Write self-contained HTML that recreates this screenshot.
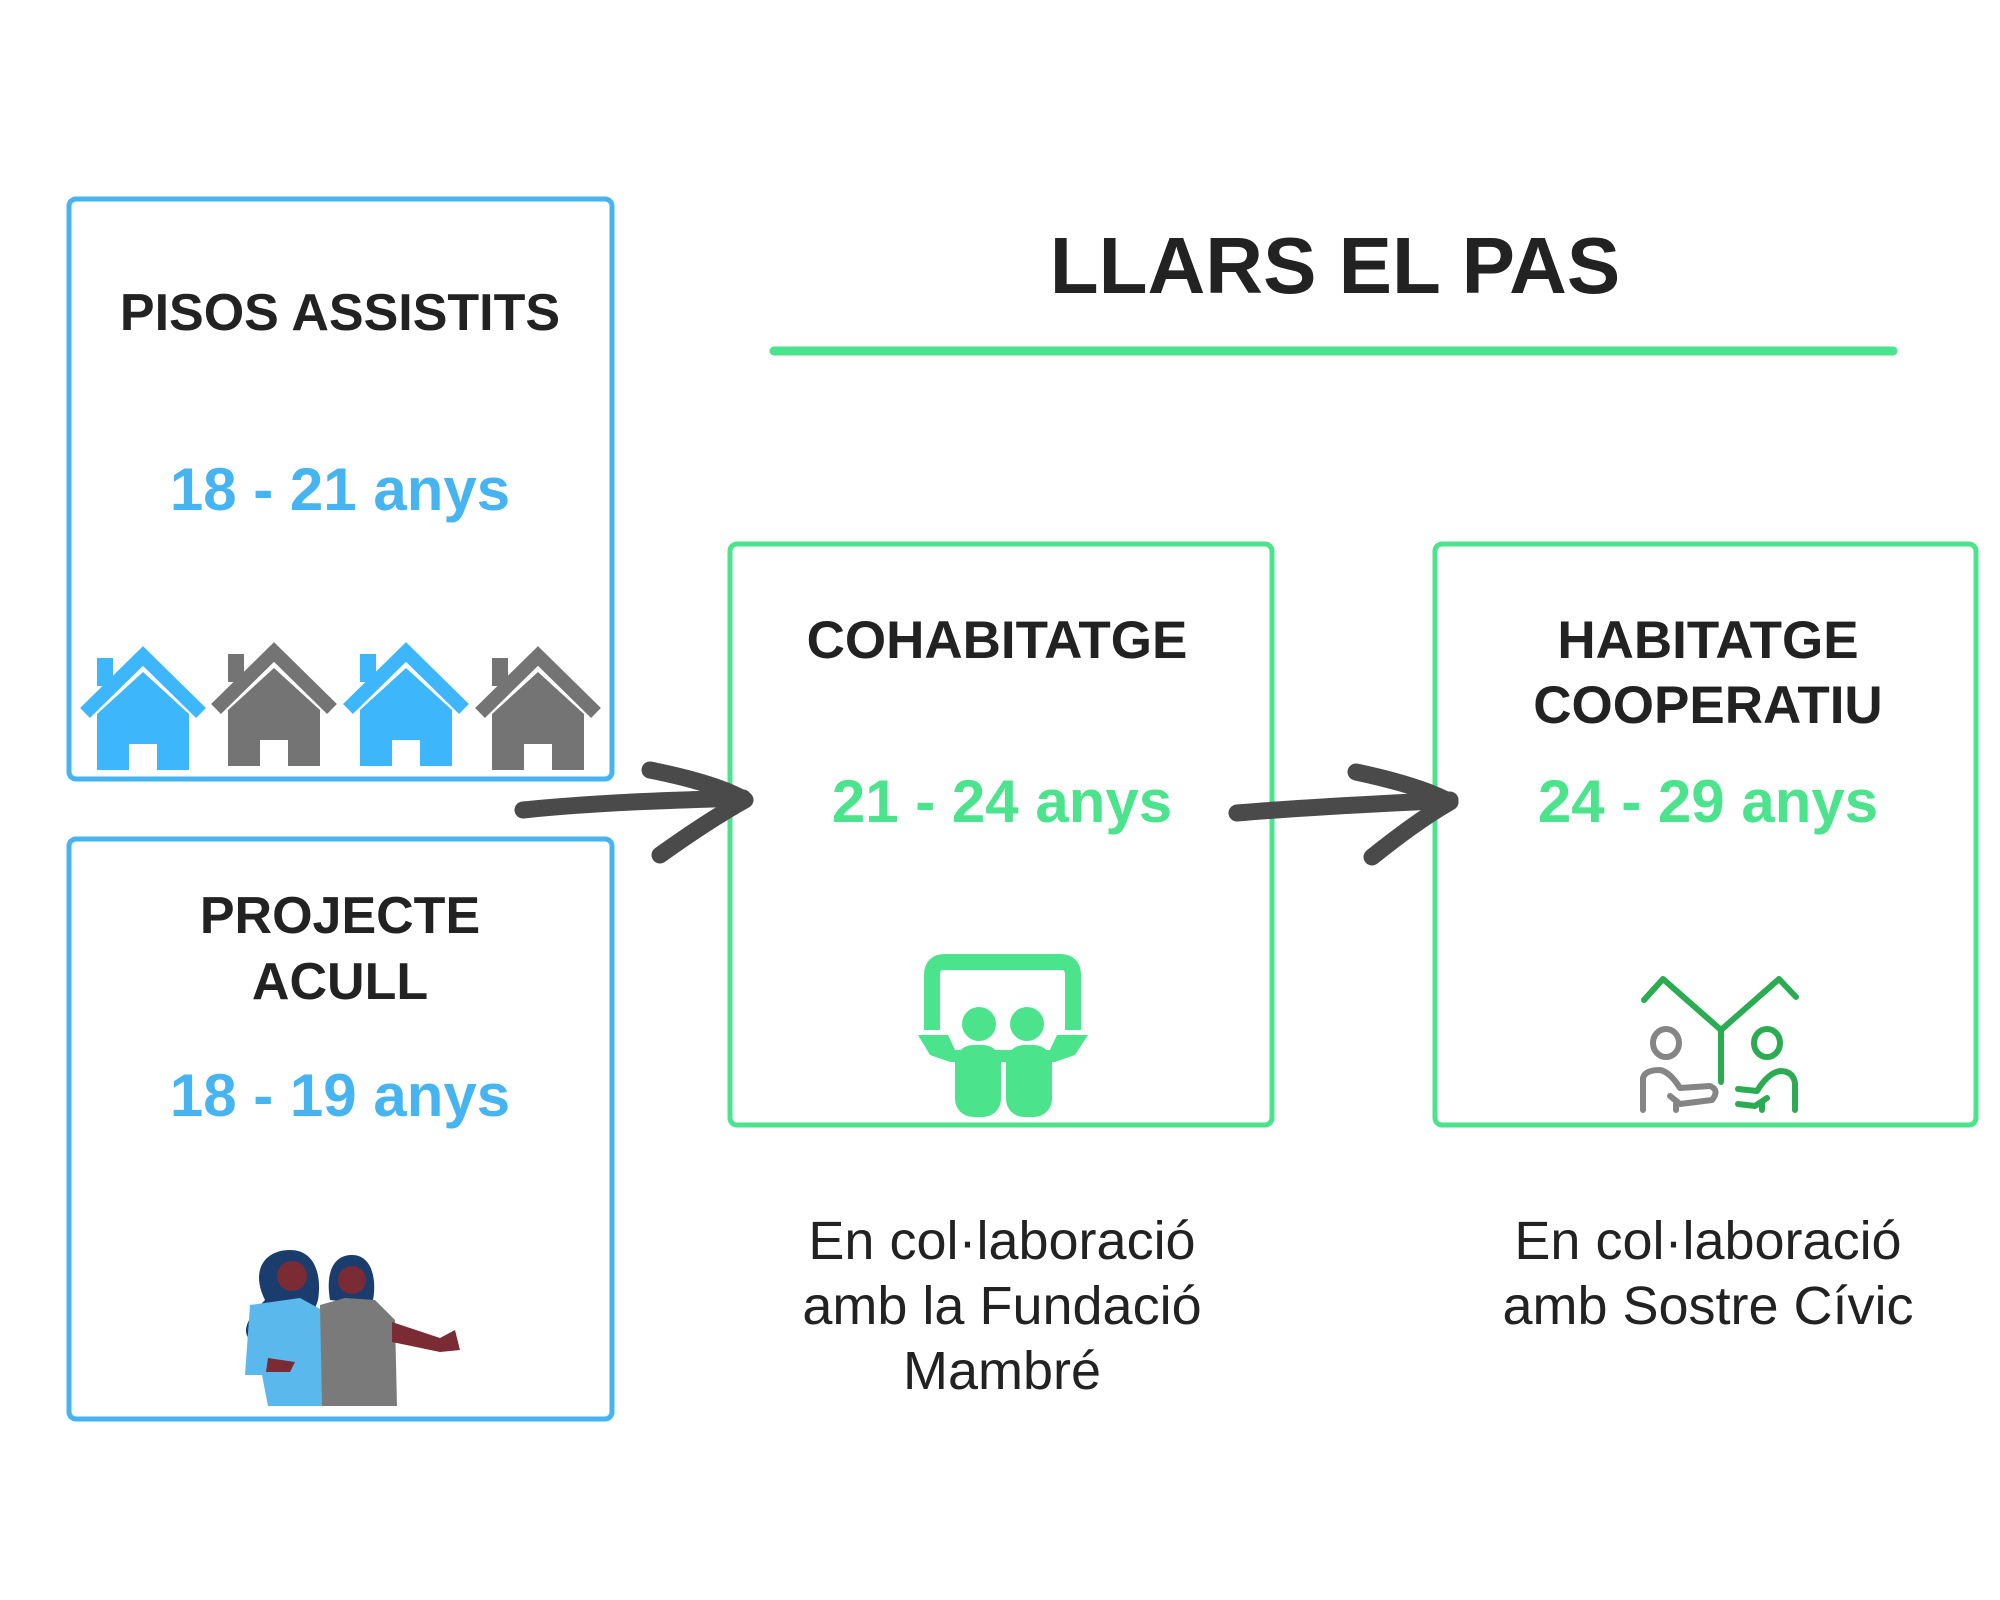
<!DOCTYPE html>
<html><head><meta charset="utf-8"><style>
html,body{margin:0;padding:0;background:#fff;}
svg{display:block;}
text{font-family:"Liberation Sans",sans-serif;}
</style></head><body>
<svg width="2000" height="1600" viewBox="0 0 2000 1600" xmlns="http://www.w3.org/2000/svg">
<rect width="2000" height="1600" fill="#fff"/>
<!-- boxes -->
<rect x="69" y="199" width="543" height="580" rx="7" fill="none" stroke="#45b4f0" stroke-width="5"/>
<rect x="69" y="839" width="543" height="580" rx="7" fill="none" stroke="#45b4f0" stroke-width="5"/>
<rect x="730" y="544" width="542" height="581" rx="7" fill="none" stroke="#4be38b" stroke-width="5"/>
<rect x="1435" y="544" width="541" height="581" rx="7" fill="none" stroke="#4be38b" stroke-width="5"/>
<!-- title -->
<text x="1335" y="293" text-anchor="middle" font-size="80" font-weight="bold" fill="#222">LLARS EL PAS</text>
<line x1="774" y1="351" x2="1893" y2="351" stroke="#4be38b" stroke-width="9" stroke-linecap="round"/>
<!-- box 1 -->
<text x="340" y="330" text-anchor="middle" font-size="52" font-weight="bold" fill="#222">PISOS ASSISTITS</text>
<text x="340" y="510" text-anchor="middle" font-size="60" font-weight="bold" fill="#45b4f0">18 - 21 anys</text>
<defs>
<g id="house">
<polyline points="-58,63 0,6 58,63" fill="none" stroke-width="14"/>
<rect x="-46" y="8" width="16" height="28" stroke="none"/>
<path d="M-46,64 L0,22 L46,64 L46,120 L14,120 L14,94 L-14,94 L-14,120 L-46,120 Z" stroke="none"/>
</g>
</defs>
<use href="#house" x="143" y="650" fill="#3db6fb" stroke="#3db6fb"/>
<use href="#house" x="274" y="646" fill="#747474" stroke="#747474"/>
<use href="#house" x="406" y="646" fill="#3db6fb" stroke="#3db6fb"/>
<use href="#house" x="538" y="650" fill="#747474" stroke="#747474"/>
<!-- box 2 -->
<text x="340" y="933" text-anchor="middle" font-size="52" font-weight="bold" fill="#222">PROJECTE</text>
<text x="340" y="999" text-anchor="middle" font-size="52" font-weight="bold" fill="#222">ACULL</text>
<text x="340" y="1116" text-anchor="middle" font-size="60" font-weight="bold" fill="#45b4f0">18 - 19 anys</text>
<!-- people -->
<path d="M265,1300 C250,1270 265,1250 290,1250 C315,1250 322,1275 318,1300 C312,1320 300,1330 300,1340 L250,1340 C240,1330 250,1315 265,1300Z" fill="#1b3d6e"/>
<path d="M250,1305 L300,1298 L322,1310 L322,1406 L268,1406 L262,1375 L245,1375 Z" fill="#5bb8ec"/>
<circle cx="292" cy="1276" r="15" fill="#7a2b34"/>
<path d="M330,1300 C325,1270 335,1255 352,1255 C372,1255 378,1280 372,1305 Z" fill="#1b3d6e"/>
<circle cx="352" cy="1280" r="14" fill="#7a2b34"/>
<path d="M320,1305 L345,1298 L375,1300 L395,1320 L397,1406 L322,1406 Z" fill="#7a7a7a"/>
<path d="M392,1322 L440,1338 L455,1330 L460,1350 L440,1352 L392,1342 Z" fill="#7a2b34"/>
<path d="M268,1358 L295,1362 L290,1372 L266,1372 Z" fill="#7a2b34"/>
<!-- arrows -->
<g fill="none" stroke="#4a4a4a" stroke-width="17" stroke-linecap="round" stroke-linejoin="round">
<path d="M523,810 C600,802 680,800 743,798"/>
<path d="M650,770 C700,780 728,790 745,800 C718,815 688,835 660,855"/>
<path d="M1237,813 C1320,806 1400,803 1450,800"/>
<path d="M1356,772 C1403,782 1432,792 1450,802 C1422,818 1396,838 1372,857"/>
</g>
<!-- cohab -->
<text x="997" y="658" text-anchor="middle" font-size="53" font-weight="bold" fill="#222">COHABITATGE</text>
<text x="1002" y="822" text-anchor="middle" font-size="60" font-weight="bold" fill="#4be38b">21 - 24 anys</text>
<g fill="#4be38b">
<path d="M932,1030 L932,975 Q932,962 945,962 L1060,962 Q1073,962 1073,975 L1073,1030" fill="none" stroke="#4be38b" stroke-width="16"/>
<path d="M918,1035 L948,1035 L955,1050 L1050,1050 L1057,1035 L1088,1035 L1075,1055 L1055,1062 L950,1062 L930,1055 Z"/>
<circle cx="979" cy="1024" r="17"/>
<circle cx="1027" cy="1024" r="17"/>
<rect x="955" y="1045" width="46" height="72" rx="18"/>
<rect x="1006" y="1045" width="46" height="72" rx="18"/>
</g>
<!-- habitatge -->
<text x="1708" y="658" text-anchor="middle" font-size="53" font-weight="bold" fill="#222">HABITATGE</text>
<text x="1708" y="723" text-anchor="middle" font-size="53" font-weight="bold" fill="#222">COOPERATIU</text>
<text x="1708" y="822" text-anchor="middle" font-size="60" font-weight="bold" fill="#4be38b">24 - 29 anys</text>
<g fill="none" stroke-width="6" stroke-linecap="round" stroke-linejoin="round">
<polyline points="1644,1000 1663,979 1721,1030 1779,979 1796,997" stroke="#2bac52"/>
<line x1="1721" y1="1030" x2="1721" y2="1082" stroke="#2bac52"/>
<ellipse cx="1666" cy="1043" rx="13" ry="14" stroke="#858585"/>
<path d="M1643,1110 L1643,1078 Q1645,1070 1660,1070 Q1670,1072 1680,1088 L1710,1086 Q1720,1090 1712,1100 L1680,1104 L1670,1096 M1676,1104 L1676,1110" stroke="#858585"/>
<ellipse cx="1767" cy="1043" rx="13" ry="14" stroke="#2bac52"/>
<path d="M1795,1110 L1795,1083 Q1793,1071 1780,1071 Q1768,1073 1757,1091 L1738,1089 M1738,1104 L1755,1106 L1767,1098 M1762,1102 L1762,1110" stroke="#2bac52"/>
</g>
<!-- captions -->
<g font-size="54" fill="#222" text-anchor="middle">
<text x="1002" y="1259">En col·laboració</text>
<text x="1002" y="1324">amb la Fundació</text>
<text x="1002" y="1389">Mambré</text>
<text x="1708" y="1259">En col·laboració</text>
<text x="1708" y="1324">amb Sostre Cívic</text>
</g>
</svg>
</body></html>
